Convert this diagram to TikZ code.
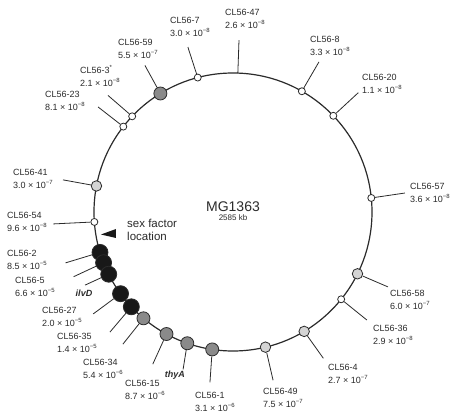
\documentclass[tikz,border=0pt]{standalone}
\usepackage{fontspec}
\setmainfont{Liberation Sans}
\usetikzlibrary{calc}
\definecolor{ringline}{HTML}{2B2B2B}
\definecolor{lightmark}{HTML}{D4D4D4}
\definecolor{midmark}{HTML}{8A8A8A}
\definecolor{darkmark}{HTML}{181818}

\begin{document}
\begin{tikzpicture}[x=1pt, y=1pt,
  lead/.style={draw=ringline, line width=0.8pt},
  sitemark/.style={circle, draw=ringline, line width=0.8pt, inner sep=0pt},
  mkwhite/.style={sitemark, fill=white, minimum size=7pt},
  mklight/.style={sitemark, fill=lightmark, minimum size=10.5pt},
  mkgray/.style={sitemark, fill=midmark, minimum size=13pt},
  mkblack/.style={sitemark, fill=darkmark, minimum size=16pt},
  lbl/.style={font=\fontsize{9}{13}\selectfont, text=ringline, align=left, inner sep=0pt, anchor=west},
  gene/.style={font=\fontsize{9}{11}\selectfont\bfseries\itshape, text=ringline, inner sep=0pt}]

% Background
\fill[white] (-233,-200) rectangle (222,212);
\useasboundingbox (-233,-200) rectangle (222,212);

% Chromosome
\draw[ringline, line width=1.2pt] (0,0) circle (139pt);
\node[font=\fontsize{14}{14}\selectfont, text=ringline] (mg) at (0,5) {MG1363};
\node[font=\fontsize{8}{8}\selectfont, text=ringline] (kb) at (0,-6) {2585 kb};

% Leader ends
\coordinate (m47) at (88:139);
\coordinate (e47) at (88:172);
\coordinate (e7) at (105.3:171);
\coordinate (e59) at (121:171);
\coordinate (e3) at (137:171);
\coordinate (e23) at (142.1:171);
\coordinate (e41) at (169.3:173);
\coordinate (e54) at (183.8:180);
\coordinate (e2) at (196.9:175);
\coordinate (e2b) at (202.1:172);
\coordinate (e5) at (206.3:165);
\coordinate (e27) at (216.1:173);
\coordinate (e35) at (224.3:172);
\coordinate (e34) at (230.2:172);
\coordinate (e15) at (242.2:172);
\coordinate (ethy) at (252.4:165);
\coordinate (e1) at (262.3:172);
\coordinate (e49) at (283.4:173);
\coordinate (e4) at (301.7:172);
\coordinate (e36) at (321.1:172);
\coordinate (e58) at (334.2:172);
\coordinate (e57) at (6.3:173);
\coordinate (e20) at (43.6:173);
\coordinate (e8) at (60.2:173);

% Insertion sites
\node[mkwhite] (m7) at (104.7:139) {};
\node[mkgray] (m59) at (121.5:139) {};
\node[mkwhite] (m3) at (136.5:139) {};
\node[mkwhite] (m23) at (142.1:139) {};
\node[mklight] (m41) at (169.2:139) {};
\node[mkwhite] (m54) at (184.1:139) {};
\node[mkblack] (m2) at (196.9:139) {};
\node[mkblack] (m2b) at (201.4:139) {};
\node[mkblack] (m5) at (206.6:139) {};
\node[mkblack] (m27) at (216:139) {};
\node[mkblack] (m35) at (223:139) {};
\node[mkgray] (m34) at (229.9:139) {};
\node[mkgray] (m15) at (241.4:139) {};
\node[mkgray] (mthy) at (250.8:139) {};
\node[mkgray] (m1) at (261.4:139) {};
\node[mklight] (m49) at (283.5:139) {};
\node[mklight] (m4) at (300.8:139) {};
\node[mkwhite] (m36) at (321.1:139) {};
\node[mklight] (m58) at (333.6:139) {};
\node[mkwhite] (m57) at (5.8:139) {};
\node[mkwhite] (m20) at (43.8:139) {};
\node[mkwhite] (m8) at (60.3:139) {};

% Leaders
\draw[lead] (m47) -- (e47);
\draw[lead] (m7) -- (e7);
\draw[lead] (m59) -- (e59);
\draw[lead] (m3) -- (e3);
\draw[lead] (m23) -- (e23);
\draw[lead] (m41) -- (e41);
\draw[lead] (m54) -- (e54);
\draw[lead] (m2) -- (e2);
\draw[lead] (m2b) -- (e2b);
\draw[lead] (m5) -- (e5);
\draw[lead] (m27) -- (e27);
\draw[lead] (m35) -- (e35);
\draw[lead] (m34) -- (e34);
\draw[lead] (m15) -- (e15);
\draw[lead] (mthy) -- (ethy);
\draw[lead] (m1) -- (e1);
\draw[lead] (m49) -- (e49);
\draw[lead] (m4) -- (e4);
\draw[lead] (m36) -- (e36);
\draw[lead] (m58) -- (e58);
\draw[lead] (m57) -- (e57);
\draw[lead] (m20) -- (e20);
\draw[lead] (m8) -- (e8);

% Labels
\node[lbl] (l7) at (-63,185) {CL56-7\\3.0 × 10\textsuperscript{−8}};
\node[lbl] (l47) at (-8,193) {CL56-47\\2.6 × 10\textsuperscript{−8}};
\node[lbl] (l8) at (77,166) {CL56-8\\3.3 × 10\textsuperscript{−8}};
\node[lbl] (l20) at (129,128.5) {CL56-20\\1.1 × 10\textsuperscript{−8}};
\node[lbl] (l59) at (-115,163.5) {CL56-59\\5.5 × 10\textsuperscript{−7}};
\node[lbl] (l3) at (-153,136) {CL56-3\textsuperscript{*}\\2.1 × 10\textsuperscript{−8}};
\node[lbl] (l23) at (-188,111) {CL56-23\\8.1 × 10\textsuperscript{−8}};
\node[lbl] (l41) at (-220,33) {CL56-41\\3.0 × 10\textsuperscript{−7}};
\node[lbl] (l54) at (-226,-10) {CL56-54\\9.6 × 10\textsuperscript{−8}};
\node[lbl] (l2) at (-226,-47.5) {CL56-2\\8.5 × 10\textsuperscript{−5}};
\node[lbl] (l5) at (-218,-74.5) {CL56-5\\6.6 × 10\textsuperscript{−5}};
\node[lbl] (l27) at (-191,-104.5) {CL56-27\\2.0 × 10\textsuperscript{−5}};
\node[lbl] (l35) at (-176,-131) {CL56-35\\1.4 × 10\textsuperscript{−5}};
\node[lbl] (l34) at (-150,-156.5) {CL56-34\\5.4 × 10\textsuperscript{−6}};
\node[lbl] (l15) at (-108,-178) {CL56-15\\8.7 × 10\textsuperscript{−6}};
\node[lbl] (l1) at (-38,-189.5) {CL56-1\\3.1 × 10\textsuperscript{−6}};
\node[lbl] (l49) at (30,-185.5) {CL56-49\\7.5 × 10\textsuperscript{−7}};
\node[lbl] (l4) at (95,-162) {CL56-4\\2.7 × 10\textsuperscript{−7}};
\node[lbl] (l36) at (140,-122.5) {CL56-36\\2.9 × 10\textsuperscript{−8}};
\node[lbl] (l58) at (157,-88) {CL56-58\\6.0 × 10\textsuperscript{−7}};
\node[lbl] (l57) at (177,19) {CL56-57\\3.6 × 10\textsuperscript{−8}};

% Genes
\node[gene] (ilvd) at (-149,-81) {ilvD};
\node[gene] (thya) at (-58,-163) {thyA};

% Sex factor
\node[font=\fontsize{11.5}{13}\selectfont, text=ringline, align=left, inner sep=0pt, anchor=west] (sexf) at (-106,-17.5) {sex factor\\location};
\coordinate (sftip) at (-132,-22.5);
\fill[darkmark] (sftip) -- (-117,-17) -- (-117,-26) -- cycle;

\end{tikzpicture}
\end{document}
